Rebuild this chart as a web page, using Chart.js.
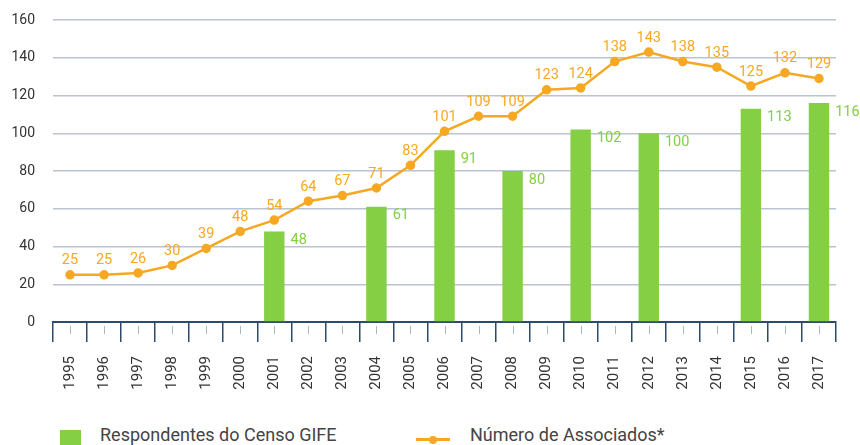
<!DOCTYPE html>
<html><head><meta charset="utf-8">
<script src="https://cdn.jsdelivr.net/npm/chart.js@4/dist/chart.umd.min.js"></script>
<style>
html,body{margin:0;padding:0;background:#fff;}
#wrap{position:relative;width:860px;height:445px;overflow:hidden;}
#c{position:absolute;left:0;top:0;}
.leg{position:absolute;top:424px;font-family:Roboto,"Liberation Sans",sans-serif;font-size:18px;line-height:22px;color:#444;white-space:nowrap;}
.sw{position:absolute;}
</style></head><body>
<div id="wrap">
<canvas id="c" width="860" height="405"></canvas>
<div class="leg" style="left:60px;"><span class="sw" style="left:0;top:6px;width:21px;height:18px;background:#84cf44;"></span><span style="margin-left:40px;">Respondentes do Censo GIFE</span></div>
<div class="leg" style="left:416px;"><span class="sw" style="left:0;top:14px;width:34px;height:3px;background:#f7a823;"></span><span class="sw" style="left:13px;top:11.5px;width:8px;height:8px;border-radius:50%;background:#f7a823;"></span><span style="margin-left:54px;">Número de Associados*</span></div>
</div>
<script>
const years = ["1995","1996","1997","1998","1999","2000","2001","2002","2003","2004","2005","2006","2007","2008","2009","2010","2011","2012","2013","2014","2015","2016","2017"];
const associados = [25,25,26,30,39,48,54,64,67,71,83,101,109,109,123,124,138,143,138,135,125,132,129];
const respondentes = [null,null,null,null,null,null,48,null,null,61,null,91,null,80,null,102,null,100,null,null,113,null,116];
const yTicks = [0,20,40,60,80,100,120,140,160];

const GREEN = "#84cf44", ORANGE = "#f7a823";
const FONT = 'Roboto, "Liberation Sans", sans-serif';

const labelPlugin = {
  id: 'lbls',
  afterDatasetsDraw(chart) {
    const ctx = chart.ctx;
    ctx.save();
    ctx.font = '14.5px ' + FONT;
    const bm = chart.getDatasetMeta(0);
    ctx.fillStyle = GREEN; ctx.textAlign = 'left'; ctx.textBaseline = 'middle';
    bm.data.forEach((el, i) => {
      const v = respondentes[i];
      if (v == null) return;
      ctx.fillText(String(v), el.x + el.width/2 + 6, el.y + 9);
    });
    const lm = chart.getDatasetMeta(1);
    ctx.fillStyle = ORANGE; ctx.textAlign = 'center'; ctx.textBaseline = 'middle';
    lm.data.forEach((el, i) => {
      ctx.fillText(String(associados[i]), el.x, el.y - 14);
    });
    ctx.restore();
  },
  afterDraw(chart) {
    const ctx = chart.ctx, x = chart.scales.x, top = chart.chartArea.bottom;
    ctx.save();
    ctx.strokeStyle = '#aab7c6'; ctx.lineWidth = 1;
    years.forEach((y, i) => {
      const px = Math.round(x.getPixelForValue(i)) + 0.5;
      ctx.beginPath(); ctx.moveTo(px, top + 4); ctx.lineTo(px, top + 12); ctx.stroke();
    });
    ctx.restore();
  }
};

new Chart(document.getElementById('c'), {
  data: {
    labels: years,
    datasets: [
      { type: 'bar', label: 'Respondentes do Censo GIFE', data: respondentes, backgroundColor: GREEN,
        barPercentage: 0.6, categoryPercentage: 1.0, order: 2 },
      { type: 'line', label: 'Número de Associados*', data: associados, borderColor: ORANGE, backgroundColor: ORANGE,
        borderWidth: 2.5, pointRadius: 3.5, pointHoverRadius: 3.5, tension: 0, order: 1 }
    ]
  },
  options: {
    responsive: false, animation: false,
    layout: { padding: { top: 20, right: 24, left: 0, bottom: 0 } },
    plugins: { legend: { display: false }, tooltip: { enabled: false } },
    scales: {
      x: {
        offset: true,
        grid: { offset: true, drawOnChartArea: false, drawTicks: true, tickLength: 20, color: '#2d4a6b', lineWidth: 1.5 },
        border: { display: true, color: '#2d4a6b', width: 2 },
        ticks: { minRotation: 90, maxRotation: 90, autoSkip: false, padding: 14, color: '#333', font: { family: FONT, size: 15 } },
        afterFit(s) { s.height = 83; s.paddingTop = 0; s.paddingBottom = 0; }
      },
      y: {
        min: 0, max: 160,
        afterBuildTicks(s) { s.ticks = yTicks.map(v => ({ value: v })); },
        grid: { color: '#b9c4d2', lineWidth: 1.5, drawTicks: false },
        border: { display: false },
        ticks: { padding: 18, color: '#333', font: { family: FONT, size: 14 } },
        afterFit(s) { s.width = 53; s.paddingTop = 0; s.paddingBottom = 0; }
      }
    }
  },
  plugins: [labelPlugin]
});
</script>
</body></html>
